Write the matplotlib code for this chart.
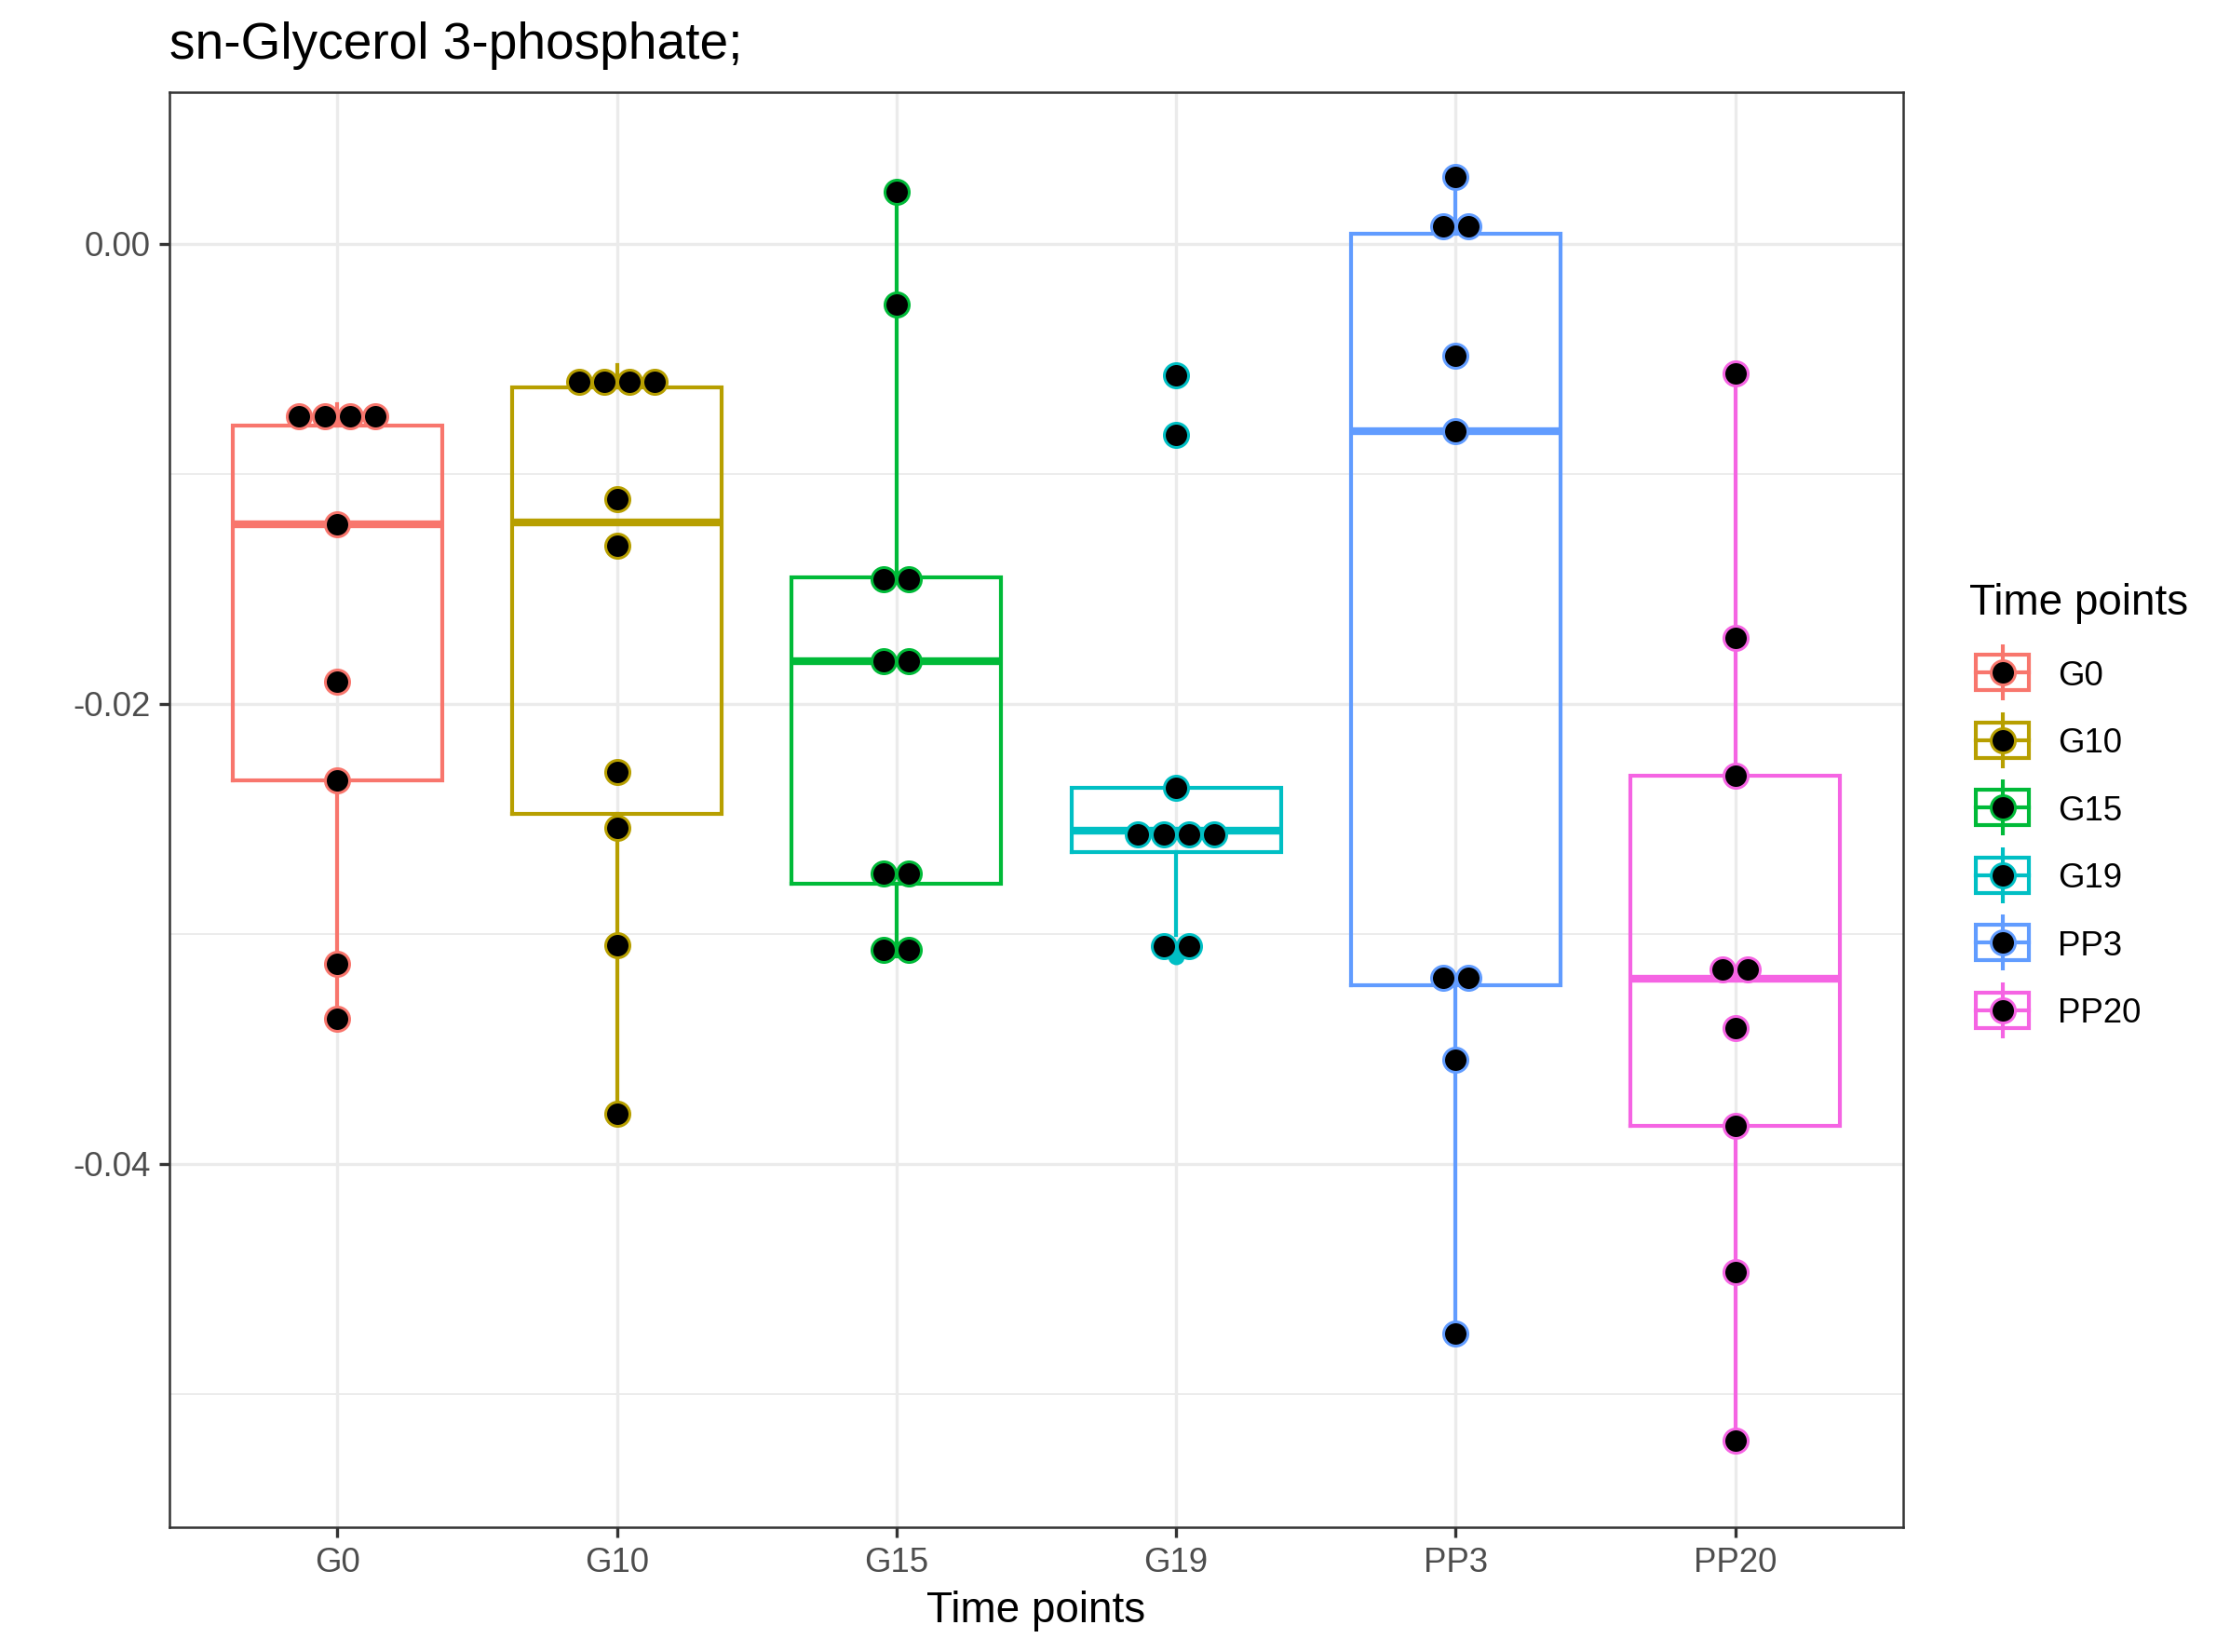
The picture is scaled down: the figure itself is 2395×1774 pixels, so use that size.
import numpy as np
import matplotlib
matplotlib.use("Agg")
import matplotlib.pyplot as plt
from matplotlib.patches import Rectangle
from matplotlib.lines import Line2D

plt.rcParams['font.family'] = ['Liberation Sans', 'DejaVu Sans']
plt.rcParams['axes.unicode_minus'] = False

# ---------------- data ----------------
categories = ["G0", "G10", "G15", "G19", "PP3", "PP20"]
colors = ["#F8766D", "#B79F00", "#00BA38", "#00BFC4", "#619CFF", "#F564E3"]

g0 = [-0.03369, -0.03132, -0.02332, -0.01903, -0.01222, -0.00800, -0.00792, -0.00740, -0.00700]
g10 = [-0.03781, -0.03051, -0.02539, -0.02298, -0.01315, -0.01113, -0.00670, -0.00610, -0.00570, -0.00530]
g15 = [-0.03100, -0.03038, -0.02825, -0.02655, -0.01860, -0.01770, -0.01480, -0.01440, -0.00264, 0.00225]
g19 = [-0.03100, -0.03006, -0.02644, -0.02600, -0.02554, -0.02496, -0.02367, -0.00831, -0.00571]
pp3 = [-0.04736, -0.03548, -0.03226, -0.03154, -0.00816, -0.00487, 0.00044, 0.00108, 0.00291]
pp20 = [-0.05202, -0.04469, -0.03837, -0.03411, -0.03197, -0.03117, -0.02312, -0.01716, -0.00563]

groups = [g0, g10, g15, g19, pp3, pp20]

title = "sn-Glycerol 3-phosphate;"
xlabel = "Time points"
legend_title = "Time points"
yticks_major = [0.0, -0.02, -0.04]
ytick_labels = ["0.00", "-0.02", "-0.04"]
yticks_minor = [-0.01, -0.03, -0.05]

# ---------------- figure ----------------
W, H, DPI = 2395, 1774, 300
fig = plt.figure(figsize=(W / DPI, H / DPI), dpi=DPI)
L, R, T, B = 182, 2044, 99, 1640
ax = fig.add_axes([L / W, 1 - B / H, (R - L) / W, (B - T) / H])

xlim = (0.4, 6.6)
ylim = (-0.0558, 0.00658)
ax.set_xlim(*xlim)
ax.set_ylim(*ylim)

grid_col = "#EBEBEB"
ax.set_axisbelow(True)
ax.set_xticks(range(1, len(categories) + 1))
ax.set_xticklabels(categories)
ax.set_yticks(yticks_major)
ax.set_yticklabels(ytick_labels)
ax.set_yticks(yticks_minor, minor=True)
ax.grid(True, which='major', color=grid_col, linewidth=0.8)
ax.grid(True, which='minor', axis='y', color=grid_col, linewidth=0.45)
ax.tick_params(axis='both', which='major', length=2.75, width=0.8, color="#333333",
               labelcolor="#4D4D4D", labelsize=8.8, pad=2.2)
ax.tick_params(axis='y', which='minor', length=0)
for s in ax.spines.values():
    s.set_color("#333333")
    s.set_linewidth(0.6)
    s.set_zorder(5)

# ---------------- boxplots ----------------
lw = 1.0
bp = ax.boxplot(groups, positions=range(1, len(groups) + 1), widths=0.75, whis=1.5,
                showcaps=False, manage_ticks=False, patch_artist=False,
                flierprops=dict(marker='o', markersize=4.3, markeredgewidth=0),
                zorder=2)
for i, c in enumerate(colors):
    bp['boxes'][i].set(color=c, linewidth=lw, solid_joinstyle='miter')
    bp['medians'][i].set(color=c, linewidth=2 * lw, solid_capstyle='butt')
    for w in bp['whiskers'][2 * i:2 * i + 2]:
        w.set(color=c, linewidth=lw, linestyle='-')
    bp['fliers'][i].set(markerfacecolor=c, markeredgecolor=c)

# ---------------- dot plot (dotdensity binning, centred stacks) ----------------
alldata = np.concatenate([np.asarray(g) for g in groups])
binwidth = (alldata.max() - alldata.min()) / 30.0
dotsize = 0.6
fig.canvas.draw()
ax_w_px = (R - L)
ax_h_px = (B - T)
y_px_per_unit = ax_h_px / (ylim[1] - ylim[0])
x_units_per_px = (xlim[1] - xlim[0]) / ax_w_px
step_px = binwidth * dotsize * y_px_per_unit
step_x = step_px * x_units_per_px

dot_ms = 6.24
dot_ew = 0.72
for i, (g, c) in enumerate(zip(groups, colors)):
    vals = np.sort(np.asarray(g))
    bins = []
    binend = -np.inf
    for v in vals:
        if v >= binend:
            bins.append([v])
            binend = v + binwidth
        else:
            bins[-1].append(v)
    xs, ys = [], []
    for b in bins:
        center = (min(b) + max(b)) / 2
        n = len(b)
        for k in range(n):
            xs.append(i + 1 + (k - (n - 1) / 2) * step_x)
            ys.append(center)
    ax.scatter(xs, ys, s=dot_ms ** 2, facecolor='black', edgecolor=c,
               linewidths=dot_ew, zorder=4)

# ---------------- texts ----------------
fig.text(L / W, 1 - 63 / H, title, fontsize=13.2, ha='left', va='baseline', color='black')
fig.text((L + R) / 2 / W, 1 - 1742 / H, xlabel, fontsize=11, ha='center', va='baseline',
         color='black')

# ---------------- legend (drawn in pixel coordinates) ----------------
lax = fig.add_axes([0, 0, 1, 1], zorder=10)
lax.set_xlim(0, W)
lax.set_ylim(H, 0)
lax.axis('off')
lax.text(2115, 660, legend_title, fontsize=11, ha='left', va='baseline', color='black')
key_cx, key_cy0, key_dy = 2150.5, 722.3, 72.5
for i, (cat, c) in enumerate(zip(categories, colors)):
    cy = key_cy0 + key_dy * i
    lax.add_line(Line2D([key_cx, key_cx], [cy - 30, cy + 30], color=c, linewidth=lw,
                        solid_capstyle='butt'))
    lax.add_patch(Rectangle((key_cx - 28.6, cy - 19), 57.2, 38, facecolor='white',
                            edgecolor=c, linewidth=lw, joinstyle='miter'))
    lax.add_line(Line2D([key_cx - 28.6, key_cx + 28.6], [cy, cy], color=c, linewidth=lw))
    lax.scatter([key_cx], [cy], s=dot_ms ** 2, facecolor='black', edgecolor=c,
                linewidths=dot_ew, zorder=5)
    lax.text(2210, cy, cat, fontsize=8.8, ha='left', va='center_baseline', color='black')

fig.savefig("out.png", dpi=DPI)
